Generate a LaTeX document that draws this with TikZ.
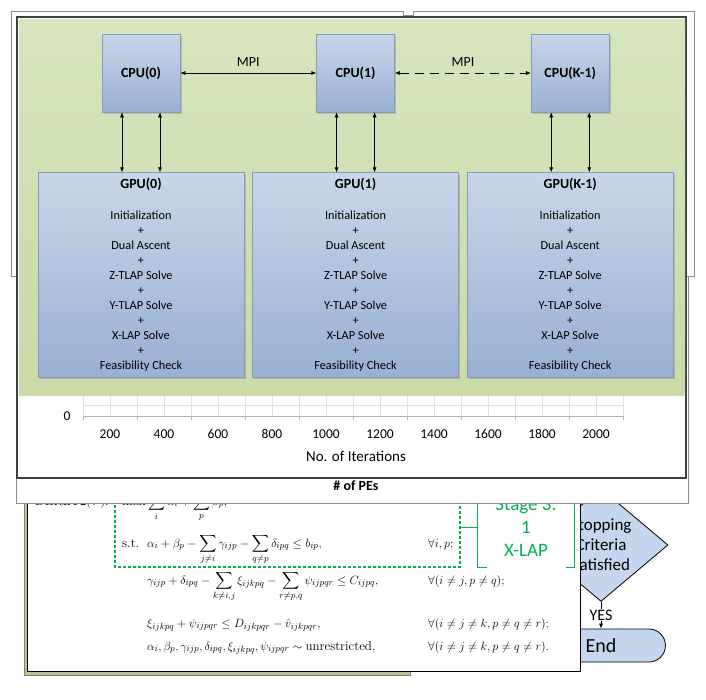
\documentclass[tikz,border=0pt]{standalone}
\usepackage{amsmath}
\usepackage{fontspec}
\newfontfamily\calibri{Carlito}
\usepackage{tikz}
\usetikzlibrary{positioning}
\usetikzlibrary{shapes}
\usetikzlibrary{shadows}
\usetikzlibrary{arrows.meta}

\definecolor{panelgreen}{RGB}{215,228,190}
\definecolor{panelgreenlow}{RGB}{202,218,168}
\definecolor{chiptop}{RGB}{201,214,233}
\definecolor{chipbot}{RGB}{152,176,210}
\definecolor{chipedge}{RGB}{135,155,185}
\definecolor{flowblue}{RGB}{197,214,238}
\definecolor{stagegreen}{RGB}{0,176,80}
\definecolor{shadeolive}{RGB}{188,196,150}

\newcommand{\gpusteps}{Initialization\\+\\Dual Ascent\\+\\Z-TLAP Solve\\+\\Y-TLAP Solve\\+\\X-LAP Solve\\+\\Feasibility Check}

\tikzset{
  frame/.style={draw=black!45, fill=white, line width=0.6pt},
  chartframe/.style={draw=black!75, fill=white, line width=1.5pt},
  chip/.style={draw=chipedge, top color=chiptop, bottom color=chipbot, line width=0.6pt,
    drop shadow={shadow xshift=1.5pt, shadow yshift=-1.5pt, opacity=0.35}},
  cpubox/.style={chip, minimum width=78pt, minimum height=78pt, inner sep=0pt,
    font=\calibri\bfseries\fontsize{14}{16}\selectfont},
  gpubox/.style={chip, minimum width=206pt, minimum height=205pt, align=center,
    font=\calibri\fontsize{12.3}{15}\selectfont},
  link/.style={<->, line width=0.6pt},
  mpilabel/.style={above=3pt, font=\calibri\fontsize{14}{16}\selectfont},
  gridline/.style={draw=black!12, line width=0.5pt},
  axisline/.style={draw=black!30, line width=0.6pt},
  ticklabel/.style={font=\calibri\fontsize{13.5}{15}\selectfont},
  mathline/.style={anchor=base west, inner sep=0pt, font=\rmfamily\fontsize{13}{15}\selectfont},
  stagedash/.style={draw=stagegreen, line width=1.3pt, dash pattern=on 3pt off 2pt},
  stagebrace/.style={draw=stagegreen, line width=1pt},
  stagetext/.style={align=center, text=stagegreen, font=\calibri\fontsize{19}{23}\selectfont},
  decision/.style={diamond, draw, fill=flowblue, line width=0.8pt, minimum width=134pt,
    minimum height=100pt, inner sep=0pt, align=center, font=\calibri\fontsize{17}{20}\selectfont},
  terminal/.style={rounded rectangle, rounded rectangle west arc=none, draw, fill=flowblue,
    line width=0.8pt, minimum width=134pt, minimum height=33pt, font=\calibri\fontsize{20}{22}\selectfont},
  yeslabel/.style={fill=white, inner sep=1pt, font=\calibri\fontsize{16}{18}\selectfont}
}

\begin{document}
\begin{tikzpicture}[x=1pt, y=-1pt, >={Latex[length=5pt,width=4pt]}]
  \useasboundingbox (0,0) rectangle (706,699);
  \fill[white] (0,0) rectangle (706,699);

  \node (stop) [decision] at (601,545) {Stopping\\Criteria\\Satisfied};
  \node (finish) [terminal] at (601,645.5) {End};
  \draw[->, line width=0.6pt] (stop.south) -- node[yeslabel] (yes) {YES} (finish.north);

  \draw[draw=black!50, fill=shadeolive] (24,470) rectangle (410,675);
  \draw[fill=white, line width=0.8pt] (27,470) rectangle (580,671);
  \node (dual) [mathline] at (35,505) {$\mathrm{DERLT2}(V)$:};
  \node (obj) [mathline] at (122,505) {$\displaystyle \max \sum_i \alpha_i + \sum_p \beta_p,$};
  \node (st) [mathline] at (122,547) {s.t.};
  \node (cons1) [mathline] at (147,547) {$\displaystyle \alpha_i + \beta_p - \sum_{j\neq i}\gamma_{ijp} - \sum_{q\neq p}\delta_{ipq} \le b_{ip},$};
  \node (all1) [mathline] at (428,547) {$\forall i, p;$};
  \node (cons2) [mathline] at (147,584) {$\displaystyle \gamma_{ijp} + \delta_{ipq} - \sum_{k\neq i,j}\xi_{ijkpq} - \sum_{r\neq p,q}\psi_{ijpqr} \le C_{ijpq},$};
  \node (all2) [mathline] at (428,584) {$\forall(i\neq j, p\neq q);$};
  \node (cons3) [mathline] at (147,627) {$\xi_{ijkpq} + \psi_{ijpqr} \le D_{ijkpqr} - \hat{v}_{ijkpqr},$};
  \node (all3) [mathline] at (428,627) {$\forall(i\neq j\neq k, p\neq q\neq r);$};
  \node (cons4) [mathline] at (147,650) {$\alpha_i, \beta_p, \gamma_{ijp}, \delta_{ipq}, \xi_{ijkpq}, \psi_{ijpqr} \sim \text{unrestricted},$};
  \node (all4) [mathline] at (428,650) {$\forall(i\neq j\neq k, p\neq q\neq r).$};

  \draw[stagedash] (115,470) rectangle (460,567);
  \node (stage) [stagetext] at (526,527) {Stage 3:\\1\\X-LAP};
  \draw[stagebrace] (460,527) -- (477,527);
  \draw[stagebrace] (477,470) -- (477,567) -- (487,567);
  \draw[stagebrace] (574,470) -- (574,567) -- (566,567);

  \draw[frame] (16,15) rectangle (688,503);
  \node (pes) [font=\calibri\bfseries\fontsize{14}{16}\selectfont] at (356,486) {\# of PEs};
  \draw[frame] (11,11) rectangle (403,276);
  \draw[frame] (413,11) rectangle (694,276);
  \draw[chartframe] (17,17) rectangle (686,478);

  \draw[gridline] (83,405) -- (623,405);
  \foreach \k in {0,...,20}
    \draw[gridline] (83+27*\k,395) -- (83+27*\k,416);
  \draw[axisline] (83,416) -- (623,416);
  \foreach \k in {0,2,...,20}
    \draw[axisline] (83+27*\k,416) -- (83+27*\k,420);
  \node (zero) [ticklabel] at (67,416) {0};
  \node (tick0) [ticklabel] at (110,434) {200};
  \node (tick1) [ticklabel] at (164,434) {400};
  \node (tick2) [ticklabel] at (218,434) {600};
  \node (tick3) [ticklabel] at (272,434) {800};
  \node (tick4) [ticklabel] at (326,434) {1000};
  \node (tick5) [ticklabel] at (380,434) {1200};
  \node (tick6) [ticklabel] at (434,434) {1400};
  \node (tick7) [ticklabel] at (488,434) {1600};
  \node (tick8) [ticklabel] at (542,434) {1800};
  \node (tick9) [ticklabel] at (596,434) {2000};
  \node (iters) [font=\calibri\fontsize{15}{17}\selectfont] at (356,456) {No. of Iterations};

  \shade[top color=panelgreen, bottom color=panelgreenlow] (19,19) rectangle (685,395);

  \node (cpu0) [cpubox] at (141,73) {CPU(0)};
  \node (cpu1) [cpubox, right=136pt of cpu0] {CPU(1)};
  \node (cpu2) [cpubox, right=136pt of cpu1] {CPU(K-1)};
  \node (gpu0) [gpubox, below=60pt of cpu0] {{\bfseries\fontsize{14}{15}\selectfont GPU(0)}\\[16pt]\gpusteps};
  \node (gpu1) [gpubox, below=60pt of cpu1] {{\bfseries\fontsize{14}{15}\selectfont GPU(1)}\\[16pt]\gpusteps};
  \node (gpu2) [gpubox, below=60pt of cpu2] {{\bfseries\fontsize{14}{15}\selectfont GPU(K-1)}\\[16pt]\gpusteps};

  \draw[link] (cpu0) -- node[mpilabel] (mpi0) {MPI} (cpu1);
  \draw[link, dash pattern=on 9pt off 6pt] (cpu1) -- node[mpilabel] (mpi1) {MPI} (cpu2);
  \draw[link] ([xshift=-19pt]cpu0.south) -- ([xshift=-19pt]cpu0.south |- gpu0.north);
  \draw[link] ([xshift=19pt]cpu0.south) -- ([xshift=19pt]cpu0.south |- gpu0.north);
  \draw[link] ([xshift=-19pt]cpu1.south) -- ([xshift=-19pt]cpu1.south |- gpu1.north);
  \draw[link] ([xshift=19pt]cpu1.south) -- ([xshift=19pt]cpu1.south |- gpu1.north);
  \draw[link] ([xshift=-19pt]cpu2.south) -- ([xshift=-19pt]cpu2.south |- gpu2.north);
  \draw[link] ([xshift=19pt]cpu2.south) -- ([xshift=19pt]cpu2.south |- gpu2.north);
\end{tikzpicture}
\end{document}
